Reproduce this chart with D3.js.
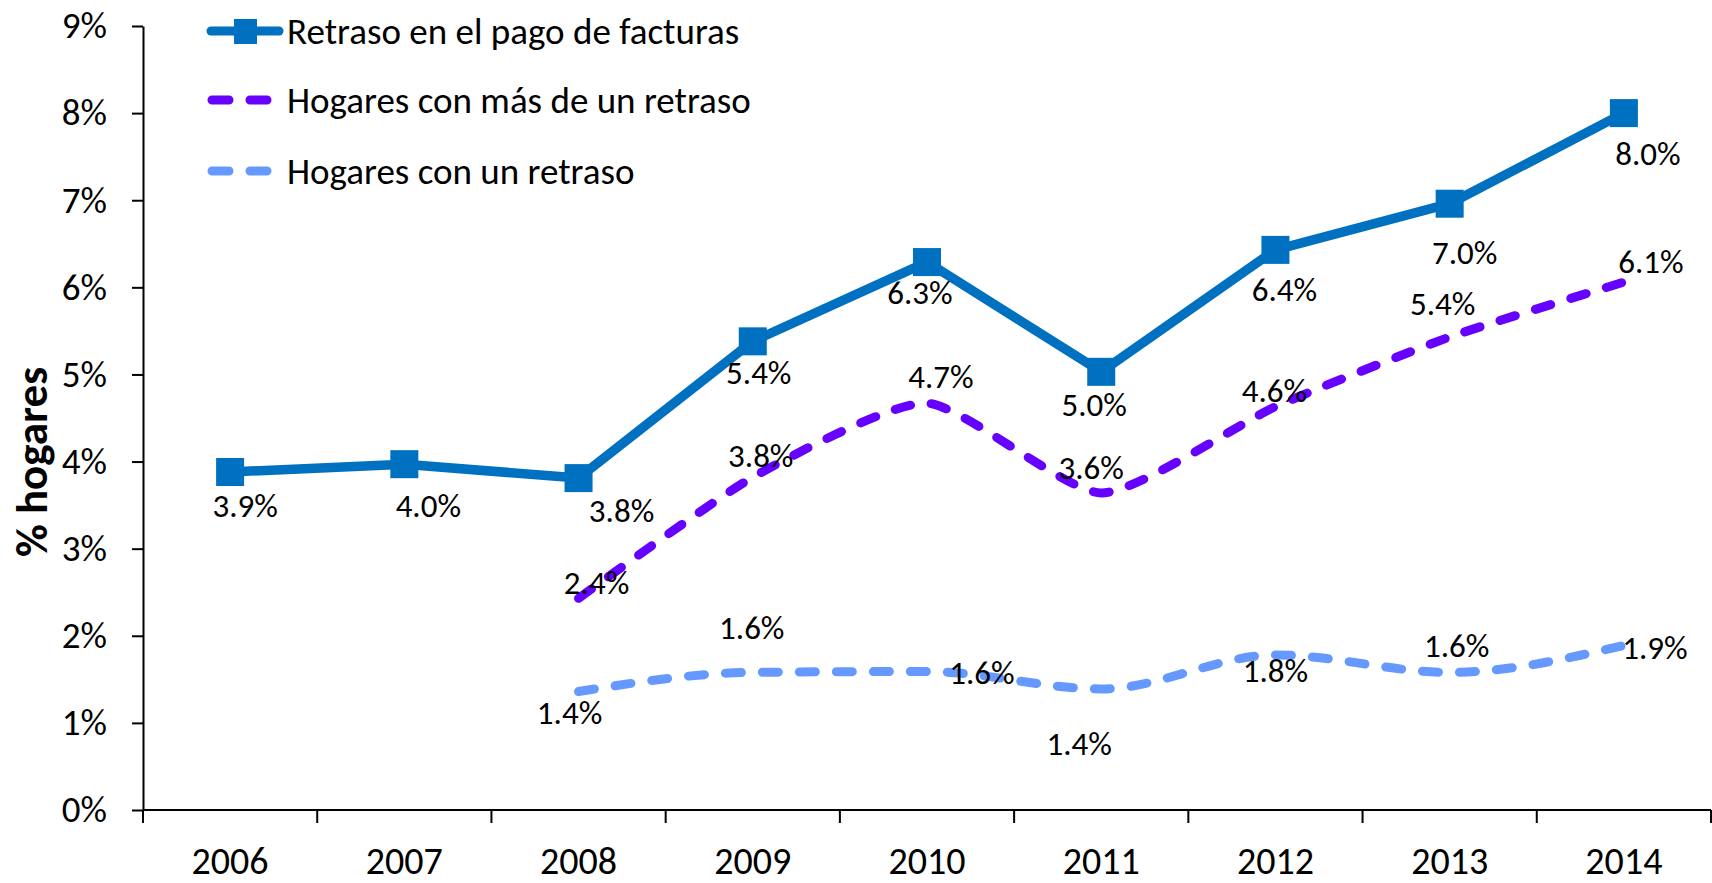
<!DOCTYPE html>
<html>
<head>
<meta charset="utf-8">
<script src="https://cdn.jsdelivr.net/npm/d3@7"></script>
<style>
  body { margin: 0; background: #fff; }
  svg { display: block; }
  svg text { font-family: Carlito, "Liberation Sans Narrow", "Open Sans", sans-serif; }
</style>
</head>
<body>
<script>
const years = ["2006", "2007", "2008", "2009", "2010", "2011", "2012", "2013", "2014"];
const yTicks = [0, 1, 2, 3, 4, 5, 6, 7, 8, 9];

// % de hogares
const retrasoPago = [3.88, 3.97, 3.81, 5.38, 6.29, 5.03, 6.43, 6.96, 8.0];
const masDeUnRetraso = [null, null, 2.43, 3.82, 4.67, 3.64, 4.63, 5.43, 6.06];
const unRetraso = [null, null, 1.36, 1.58, 1.59, 1.39, 1.78, 1.58, 1.89];

const seriesNames = ["Retraso en el pago de facturas", "Hogares con más de un retraso", "Hogares con un retraso"];

// label nudges (px) so the text sits where the original puts it
const labelOffsets = [
    [[15, 33], [24, 41], [43, 32], [6, 31], [-7, 30], [-7, 33], [9, 40], [15, 49], [24, 40]],
    [null, null, [18, -16], [8, -22], [14, -27], [-10, -25], [-1, -16], [-7, -34], [27, -21]],
    [null, null, [-9, 21], [-1, -45], [55, 1], [-22, 55], [0, 16], [7, -27], [31, 2]]
];

const width = 1712;
const height = 883;
const margin = {top: 26, right: 1, bottom: 73, left: 143};

const svg = d3.select("body")
    .append("svg")
    .attr("width", width)
    .attr("height", height);

const x = d3.scaleBand()
    .domain(years)
    .range([margin.left, width - margin.right])
    .padding(0);

const y = d3.scaleLinear()
    .domain([0, 9])
    .range([height - margin.bottom, margin.top]);

const cx = d => x(d) + x.bandwidth() / 2;

const smooth = d3.curveCardinal.tension(0.4);

const series = [
    {name: seriesNames[0], values: retrasoPago, color: "#0070C0", dash: null, curve: d3.curveLinear, marker: true},
    {name: seriesNames[1], values: masDeUnRetraso, color: "#6600FF", dash: "16 21", curve: smooth, marker: false},
    {name: seriesNames[2], values: unRetraso, color: "#6699FF", dash: "16 21", curve: d3.curveMonotoneX, marker: false}
];

// y axis
const yAxis = svg.append("g")
    .attr("transform", `translate(${margin.left},0)`)
    .call(d3.axisLeft(y).tickValues(yTicks).tickFormat(d => d + "%").tickSize(11).tickPadding(25).tickSizeOuter(0));
yAxis.attr("font-family", null).attr("font-size", null);
yAxis.select(".domain").attr("stroke", "#000").attr("stroke-width", 2);
yAxis.selectAll(".tick line").attr("stroke", "#000").attr("stroke-width", 2);
yAxis.selectAll(".tick text")
    .style("font-size", "37px")
    .attr("fill", "#000");

// x axis: labels at category centres, ticks between categories
const y0 = y(0);
const xAxis = svg.append("g")
    .attr("transform", `translate(0,${y0})`);
xAxis.append("line")
    .attr("x1", margin.left)
    .attr("x2", width - margin.right)
    .attr("stroke", "#000")
    .attr("stroke-width", 2);
xAxis.selectAll("line.tick")
    .data(years.concat(["end"]))
    .join("line")
    .attr("class", "tick")
    .attr("x1", (d, i) => margin.left + i * x.step())
    .attr("x2", (d, i) => margin.left + i * x.step())
    .attr("y1", 0)
    .attr("y2", 13)
    .attr("stroke", "#000")
    .attr("stroke-width", 2);
xAxis.selectAll("text")
    .data(years)
    .join("text")
    .attr("x", cx)
    .attr("y", 51)
    .attr("dy", "0.35em")
    .attr("text-anchor", "middle")
    .style("font-size", "38px")
    .text(d => d);

// y axis title
svg.append("text")
    .attr("transform", `translate(47,${(y(0) + y(9)) / 2 + 44}) rotate(-90)`)
    .attr("text-anchor", "middle")
    .style("font-size", "45px")
    .attr("font-weight", "bold")
    .text("% hogares");

// lines
const pts = s => years.map((yr, i) => ({yr: yr, v: s.values[i], i: i})).filter(d => d.v != null);

series.forEach(s => {
    const line = d3.line()
        .x(d => cx(d.yr))
        .y(d => y(d.v))
        .curve(s.curve);

    svg.append("path")
        .datum(pts(s))
        .attr("fill", "none")
        .attr("stroke", s.color)
        .attr("stroke-width", s.marker ? 9.5 : 9)
        .attr("stroke-linecap", s.dash ? "round" : "butt")
        .attr("stroke-linejoin", "round")
        .attr("stroke-dasharray", s.dash)
        .attr("d", line);
});

// markers
svg.append("g")
    .selectAll("rect")
    .data(pts(series[0]))
    .join("rect")
    .attr("x", d => cx(d.yr) - 14)
    .attr("y", d => y(d.v) - 14)
    .attr("width", 28)
    .attr("height", 28)
    .attr("fill", "#0070C0");

// data labels
series.forEach((s, si) => {
    svg.append("g")
        .selectAll("text")
        .data(pts(s))
        .join("text")
        .attr("x", d => cx(d.yr) + labelOffsets[si][d.i][0])
        .attr("y", d => y(d.v) + labelOffsets[si][d.i][1])
        .attr("dy", "0.35em")
        .attr("text-anchor", "middle")
        .style("font-size", "33px")
        .attr("fill", "#000")
        .text(d => d3.format(".1f")(d.v) + "%");
});

// legend
const legend = svg.append("g");
const legendRows = [31, 100, 171];
series.forEach((s, i) => {
    const g = legend.append("g").attr("transform", `translate(0,${legendRows[i]})`);
    g.append("line")
        .attr("x1", s.dash ? 212 : 211)
        .attr("x2", s.dash ? 274 : 279)
        .attr("stroke", s.color)
        .attr("stroke-width", 9)
        .attr("stroke-linecap", "round")
        .attr("stroke-dasharray", s.dash ? "17 21" : null);
    if (s.marker) {
        g.append("rect")
            .attr("x", 234)
            .attr("y", -12)
            .attr("width", 23)
            .attr("height", 25)
            .attr("fill", s.color);
    }
    g.append("text")
        .attr("x", 287)
        .attr("dy", "0.35em")
        .style("font-size", "37px")
        .text(s.name);
});
</script>
</body>
</html>
